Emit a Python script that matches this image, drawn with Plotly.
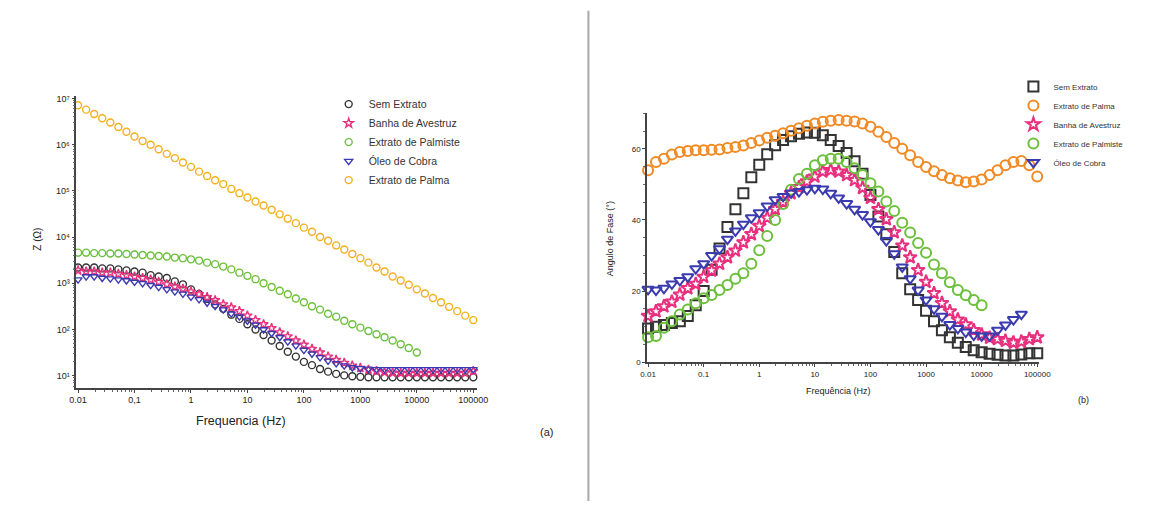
import plotly.graph_objects as go

# ---------------- data ----------------
freq = [0.01, 0.0139, 0.0193, 0.0268, 0.0373, 0.0518, 0.072,
        0.1, 0.139, 0.193, 0.268, 0.373, 0.518, 0.72,
        1, 1.39, 1.93, 2.68, 3.73, 5.18, 7.2,
        10, 13.9, 19.3, 26.8, 37.3, 51.8, 72,
        100, 139, 193, 268, 373, 518, 720,
        1000, 1390, 1930, 2680, 3730, 5180, 7200,
        10000, 13900, 19300, 26800, 37300, 51800, 72000,
        100000]

# (a) |Z| (ohm)
z_sem = [2.2e3, 2.2e3, 2.2e3, 2.1e3, 2.1e3, 2.0e3, 1.9e3, 1.8e3, 1.7e3, 1.5e3,
         1.4e3, 1.3e3, 1.1e3, 9.5e2, 7.4e2, 5.9e2, 4.6e2, 3.5e2, 2.8e2, 2.1e2,
         1.7e2, 1.3e2, 1.0e2, 76, 58, 44, 33, 26, 20, 17,
         14, 12.3, 11, 10.2, 9.8, 9.5, 9.3, 9.3, 9.3, 9.3,
         9.3, 9.3, 9.3, 9.3, 9.3, 9.3, 9.3, 9.3, 9.3, 9.3]
z_banha = [1.9e3, 1.8e3, 1.8e3, 1.7e3, 1.7e3, 1.6e3, 1.5e3, 1.4e3, 1.3e3, 1.2e3,
           1.07e3, 9.5e2, 8.5e2, 7.6e2, 6.6e2, 5.8e2, 5.0e2, 4.3e2, 3.5e2, 3.0e2,
           2.5e2, 2.0e2, 1.6e2, 1.3e2, 1.07e2, 87, 71, 58, 47, 38,
           32, 26, 22, 19, 16.6, 14.8, 13.5, 12.6, 12.0, 11.7,
           11.5, 11.5, 11.5, 11.5, 11.5, 11.5, 11.5, 11.5, 11.5, 12.6]
z_palmiste = [4.6e3, 4.6e3, 4.5e3, 4.5e3, 4.4e3, 4.4e3, 4.3e3, 4.2e3, 4.1e3, 4.0e3,
              3.9e3, 3.8e3, 3.6e3, 3.5e3, 3.3e3, 3.1e3, 2.8e3, 2.6e3, 2.3e3, 2.0e3,
              1.7e3, 1.45e3, 1.23e3, 1.0e3, 8.3e2, 6.9e2, 5.8e2, 4.7e2, 3.9e2, 3.2e2,
              2.7e2, 2.2e2, 1.9e2, 1.55e2, 1.3e2, 1.1e2, 93, 79, 68, 58,
              48, 40, 32]
z_cobra = [1.2e3, 1.4e3, 1.4e3, 1.3e3, 1.26e3, 1.2e3, 1.15e3, 1.07e3, 1.0e3, 9.1e2,
           8.3e2, 7.4e2, 6.6e2, 5.9e2, 5.1e2, 4.5e2, 3.8e2, 3.2e2, 2.7e2, 2.2e2,
           1.9e2, 1.55e2, 1.26e2, 1.0e2, 83, 68, 55, 45, 36, 30,
           25, 21, 18.6, 16.6, 15.1, 14.5, 14.1, 13.8, 13.8, 13.8,
           13.8, 13.8, 13.8, 13.8, 13.8, 13.8, 13.8, 13.8, 13.8, 13.8]
z_palma = [7.1e6, 5.7e6, 4.6e6, 3.7e6, 3.0e6, 2.4e6, 1.9e6, 1.5e6, 1.2e6, 9.9e5,
           7.9e5, 6.3e5, 5.1e5, 4.1e5, 3.3e5, 2.6e5, 2.1e5, 1.7e5, 1.4e5, 1.1e5,
           8.9e4, 7.2e4, 5.9e4, 4.8e4, 3.9e4, 3.1e4, 2.5e4, 2.0e4, 1.6e4, 1.3e4,
           1.0e4, 8.3e3, 6.6e3, 5.4e3, 4.3e3, 3.5e3, 2.8e3, 2.2e3, 1.8e3, 1.4e3,
           1.15e3, 9.3e2, 7.4e2, 6.0e2, 4.8e2, 3.9e2, 3.1e2, 2.5e2, 2.0e2, 1.6e2]

# (b) phase angle (degrees)
f_sem = [9.5, 10.0, 10.5, 11.0, 11.5, 13.0, 16.0, 20.0, 26.0, 32.0,
         38.0, 43.0, 47.5, 52.0, 55.5, 58.5, 61.0, 62.5, 63.5, 64.2,
         64.6, 64.5, 63.8, 62.5, 60.8, 58.8, 56.5, 53.0, 47.0, 41.0,
         36.0, 31.0, 25.0, 20.5, 17.5, 14.5, 11.5, 9.0, 7.0, 5.5,
         4.3, 3.4, 2.8, 2.4, 2.1, 1.9, 1.9, 2.2, 2.5, 2.5]
f_palma = [54.0, 56.3, 57.2, 58.4, 59.1, 59.4, 59.6, 59.6, 59.7, 59.8,
           60.2, 60.5, 60.9, 61.6, 62.3, 63.1, 63.7, 64.4, 65.1, 65.8,
           66.5, 67.1, 67.6, 67.9, 68.1, 67.9, 67.7, 67.1, 66.2, 64.8,
           63.3, 61.6, 60.0, 58.2, 56.3, 54.9, 53.7, 52.6, 51.7, 51.1,
           50.6, 50.8, 51.4, 52.6, 54.0, 55.4, 56.3, 56.6, 55.4, 52.2]
f_banha = [13.0, 14.3, 15.7, 17.0, 19.0, 20.8, 22.0, 24.0, 25.8, 27.7,
           29.5, 31.4, 33.7, 36.0, 38.3, 40.6, 43.0, 45.0, 47.5, 49.2,
           50.8, 52.2, 53.6, 54.0, 53.6, 52.6, 51.2, 49.0, 46.2, 43.0,
           40.2, 36.5, 32.8, 29.5, 25.9, 22.6, 19.4, 16.6, 14.3, 12.0,
           10.6, 9.0, 7.8, 6.9, 6.5, 6.0, 5.5, 5.8, 6.5, 7.0]
f_palmiste = [7.0, 7.4, 9.7, 11.5, 13.4, 14.8, 16.6, 18.0, 18.9, 20.3,
              21.7, 23.5, 25.0, 27.7, 31.5, 35.5, 40.0, 44.5, 48.5, 51.5,
              53.0, 55.4, 56.8, 57.2, 57.2, 56.3, 54.5, 52.6, 50.3, 48.0,
              45.2, 42.5, 39.2, 36.5, 33.5, 30.8, 27.5, 25.0, 22.5, 20.3,
              18.8, 17.5, 16.0]
f_cobra = [20.5, 20.3, 20.8, 22.0, 23.0, 24.0, 26.3, 27.7, 30.0, 31.9,
           34.6, 36.9, 38.8, 40.6, 42.0, 43.9, 45.7, 46.6, 47.6, 48.0,
           48.5, 48.9, 48.7, 47.5, 46.2, 44.6, 43.0, 41.5, 39.5, 37.3,
           34.2, 30.5, 26.8, 23.5, 20.3, 17.5, 15.0, 12.9, 10.6, 9.5,
           8.5, 7.6, 7.4, 7.4, 9.0, 10.5, 12.0, 13.5]

x_tick_vals = [0.01, 0.1, 1, 10, 100, 1000, 10000, 100000]
x_tick_text_a = ["0.01", "0,1", "1", "10", "100", "1000", "10000", "100000"]
x_tick_text_b = ["0.01", "0.1", "1", "10", "100", "1000", "10000", "100000"]
z_tick_vals = [1e1, 1e2, 1e3, 1e4, 1e5, 1e6, 1e7]
z_tick_text = ["10¹", "10²", "10³", "10⁴", "10⁵", "10⁶", "10⁷"]
phase_tick_vals = [0, 20, 40, 60]

# ---------------- styling ----------------
FONT = "Liberation Sans, Arial, sans-serif"
W, H = 1171, 506

C_SEM = "#333333"
C_BANHA = "#e8307e"
C_PALMISTE = "#6cbf3c"
C_COBRA = "#3b3bb0"
C_PALMA_A = "#f2b01e"
C_PALMA_B = "#f08a24"


def px_x(p):
    return p / W


def px_y(p):
    return 1 - p / H


fig = go.Figure()

# ---- panel (a) ----
series_a = [
    ("Sem Extrato", z_sem, C_SEM, "circle-open", 1),
    ("Banha de Avestruz", z_banha, C_BANHA, "star-open", 2),
    ("Extrato de Palmiste", z_palmiste, C_PALMISTE, "circle-open", 3),
    ("Óleo de Cobra", z_cobra, C_COBRA, "triangle-down-open", 4),
    ("Extrato de Palma", z_palma, C_PALMA_A, "circle-open", 5),
]
for name, vals, col, sym, rank in series_a:
    fig.add_trace(go.Scatter(
        x=freq[:len(vals)], y=vals, mode="markers", name=name,
        xaxis="x", yaxis="y", legend="legend", legendrank=rank,
        marker=dict(symbol=sym, size=7, color=col, line=dict(width=1.4, color=col)),
        cliponaxis=False,
    ))

# ---- panel (b) ----
series_b = [
    ("Sem Extrato", f_sem, C_SEM, "square-open", 1),
    ("Extrato de Palma", f_palma, C_PALMA_B, "circle-open", 2),
    ("Banha de Avestruz", f_banha, C_BANHA, "star-open", 3),
    ("Extrato de Palmiste", f_palmiste, C_PALMISTE, "circle-open", 4),
    ("Óleo de Cobra", f_cobra, C_COBRA, "triangle-down-open", 5),
]
for name, vals, col, sym, rank in series_b:
    fig.add_trace(go.Scatter(
        x=freq[:len(vals)], y=vals, mode="markers", name=name,
        xaxis="x2", yaxis="y2", legend="legend2", legendrank=rank,
        marker=dict(symbol=sym, size=10, color=col, line=dict(width=2, color=col)),
        cliponaxis=False,
    ))

axis_common = dict(
    showline=True, linecolor="#444444", linewidth=1.5, showgrid=False,
    zeroline=False, ticks="outside", ticklen=3, tickwidth=1, tickcolor="#444444",
)

fig.update_layout(
    width=W, height=H,
    margin=dict(l=0, r=0, t=0, b=0),
    paper_bgcolor="white", plot_bgcolor="white",
    font=dict(family=FONT, color="#222222"),
    xaxis=dict(
        axis_common, type="log", range=[-2.03, 5.07],
        domain=[px_x(70.5), px_x(478)], anchor="y",
        tickvals=x_tick_vals, ticktext=x_tick_text_a,
        tickfont=dict(size=9, color="#222222"),
        minor=dict(ticks="outside", ticklen=2, tickcolor="#666666", dtick="D1"),
    ),
    yaxis=dict(
        axis_common, type="log", range=[0.74, 7.04],
        domain=[px_y(391), px_y(95)], anchor="x",
        tickvals=z_tick_vals, ticktext=z_tick_text,
        tickfont=dict(size=9, color="#222222"),
        minor=dict(ticks="outside", ticklen=2, tickcolor="#666666", dtick="D1"),
    ),
    xaxis2=dict(
        axis_common, type="log", range=[-2.02, 5.04],
        domain=[px_x(650.5), px_x(1049.5)], anchor="y2",
        tickvals=x_tick_vals, ticktext=x_tick_text_b,
        tickfont=dict(size=8, color="#222222"),
        minor=dict(ticks="outside", ticklen=2, tickcolor="#666666", dtick="D1"),
    ),
    yaxis2=dict(
        axis_common, range=[0, 70],
        domain=[px_y(365), px_y(112)], anchor="x2",
        tickvals=phase_tick_vals,
        tickfont=dict(size=8, color="#222222"),
        minor=dict(ticks="outside", ticklen=2, tickcolor="#666666", dtick=5),
    ),
    legend=dict(
        x=px_x(327), y=px_y(88), xanchor="left", yanchor="top",
        bgcolor="rgba(0,0,0,0)", font=dict(size=10.5, color="#333333"),
        itemsizing="trace", tracegroupgap=0,
    ),
    legend2=dict(
        x=px_x(1023), y=px_y(70), xanchor="left", yanchor="top",
        bgcolor="rgba(0,0,0,0)", font=dict(size=8, color="#333333"),
        itemsizing="trace", tracegroupgap=0,
    ),
    showlegend=True,
)

annots = [
    dict(text="Z (Ω)", x=px_x(31), y=px_y(240), textangle=-90, font=dict(size=10)),
    dict(text="Frequencia (Hz)", x=px_x(238), y=px_y(425), font=dict(size=12.5)),
    dict(text="(a)", x=px_x(548), y=px_y(436), font=dict(size=11)),
    dict(text="Angulo de Fase (°)", x=px_x(613), y=px_y(240), textangle=-90, font=dict(size=9)),
    dict(text="Frequência (Hz)", x=px_x(845), y=px_y(394), font=dict(size=9)),
    dict(text="(b)", x=px_x(1094), y=px_y(403), font=dict(size=9)),
]
for a in annots:
    fig.add_annotation(xref="paper", yref="paper", showarrow=False,
                       xanchor="center", yanchor="middle", **a)

fig.add_shape(type="line", xref="paper", yref="paper",
              x0=px_x(591), x1=px_x(591), y0=0, y1=px_y(8),
              line=dict(color="#a8a8a8", width=2))

fig.write_html("out.html")
